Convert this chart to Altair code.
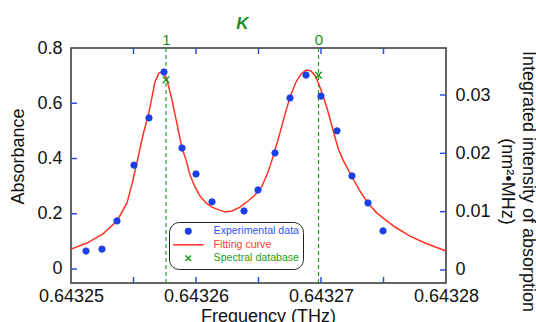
import altair as alt
import pandas as pd

# ---- data ----
exp_freq = [0.6432512, 0.64325248, 0.64325368, 0.64325504, 0.64325624, 0.64325744,
            0.64325888, 0.64326000, 0.64326128, 0.64326384, 0.64326496, 0.64326632,
            0.64326752, 0.64326880, 0.64327000, 0.64327128, 0.64327248, 0.64327376,
            0.64327496]
exp_abs = [0.065, 0.072, 0.174, 0.376, 0.547, 0.713, 0.438, 0.344, 0.243, 0.210,
           0.286, 0.420, 0.619, 0.702, 0.626, 0.500, 0.337, 0.239, 0.138]

fit_freq = [0.64325000, 0.64325128, 0.64325256, 0.64325368, 0.64325448, 0.64325496,
            0.64325536, 0.64325576, 0.64325624, 0.64325672, 0.64325704, 0.64325736,
            0.64325768, 0.64325808, 0.64325848, 0.64325888, 0.64325920, 0.64325952,
            0.64325992, 0.64326032, 0.64326080, 0.64326128, 0.64326184, 0.64326232,
            0.64326288, 0.64326352, 0.64326416, 0.64326472, 0.64326528, 0.64326576,
            0.64326608, 0.64326656, 0.64326704, 0.64326752, 0.64326800, 0.64326840,
            0.64326880, 0.64326920, 0.64326960, 0.64327000, 0.64327048, 0.64327096,
            0.64327136, 0.64327176, 0.64327248, 0.64327312, 0.64327376, 0.64327440,
            0.64327496, 0.64327592, 0.64327712, 0.64327832, 0.64328000]
fit_abs = [0.072, 0.094, 0.127, 0.174, 0.239, 0.322, 0.402, 0.485, 0.568, 0.677,
           0.710, 0.713, 0.684, 0.612, 0.525, 0.438, 0.395, 0.340, 0.297, 0.264,
           0.239, 0.224, 0.214, 0.206, 0.210, 0.224, 0.246, 0.268, 0.300, 0.351,
           0.395, 0.467, 0.547, 0.623, 0.677, 0.706, 0.720, 0.717, 0.695, 0.648,
           0.583, 0.503, 0.438, 0.395, 0.333, 0.282, 0.239, 0.206, 0.185, 0.152,
           0.119, 0.094, 0.065]

db_freq = [0.6432576, 0.6432698]
db_int = [0.0326, 0.0334]
k_labels = ["1", "0"]

x_major = [0.64325, 0.64326, 0.64327, 0.64328]
x_inner_ticks = [0.643255, 0.64326, 0.643265, 0.64327, 0.643275]
y_left_labels = [0, 0.2, 0.4, 0.6, 0.8]
y_left_ticks = [0, 0.2, 0.4, 0.6]
y_right_ticks = [0, 0.01, 0.02, 0.03]

legend_labels = ["Experimental data", "Fitting curve", "Spectral database"]
legend_colors = ["#1a3fe6", "#ff3322", "#1e9a1e"]
legend_text_colors = ["#2f55ff", "#ff3a3a", "#23a023"]
legend_shapes = ["circle", "M-5.6,0L5.6,0", "M-1,-1L1,1M-1,1L1,-1"]

W, H = 375, 235
FONT = "Liberation Sans"
TICK_BLUE = "#2f4fe0"
GREEN_LINE = "#2a9a2a"
GREEN_TEXT = "#1e8c1e"
TICK_LEN = 6

exp_df = pd.DataFrame({"f": exp_freq, "a": exp_abs, "s": legend_labels[0]})
fit_df = pd.DataFrame({"f": fit_freq, "a": fit_abs, "s": legend_labels[1]})
db_df = pd.DataFrame({"f": db_freq, "i": db_int, "k": k_labels, "s": legend_labels[2]})
xt_df = pd.DataFrame({"v": x_inner_ticks})
ylt_df = pd.DataFrame({"v": y_left_ticks})
yrt_df = pd.DataFrame({"v": y_right_ticks})

xscale = alt.Scale(domain=[0.64325, 0.64328], nice=False, zero=False)
yl_scale = alt.Scale(domain=[-0.0507, 0.80], nice=False, zero=False)
yr_scale = alt.Scale(domain=[-0.00223, 0.03806], nice=False, zero=False)

label_expr = " : ".join(
    f"datum.label == '{l}' ? '{c}'" for l, c in zip(legend_labels[:-1], legend_text_colors[:-1])
) + f" : '{legend_text_colors[-1]}'"

legend = alt.Legend(
    title=None, orient="none", legendX=98, legendY=174,
    strokeColor="#222222", cornerRadius=10, padding=4, fillColor="white",
    labelFontSize=10.6, labelFont=FONT, labelOffset=20, symbolOffset=10, rowPadding=1.5,
    symbolSize=30, symbolStrokeWidth=1.5,
    labelColor={"expr": label_expr},
)
fill_scale = alt.Scale(domain=legend_labels, range=legend_colors)
stroke_scale = alt.Scale(domain=legend_labels, range=legend_colors)
shape_scale = alt.Scale(domain=legend_labels, range=legend_shapes)

top_expr = " : ".join(
    f"datum.value == {f} ? '{k}'" for f, k in zip(db_freq[:-1], k_labels[:-1])
) + f" : '{k_labels[-1]}'"

# inward tick marks along the frame (positions from the tick arrays via the scales)
tick_style = dict(color=TICK_BLUE, strokeWidth=1.5)
xt_bottom = alt.Chart(xt_df).mark_rule(**tick_style).encode(
    x=alt.X("v:Q", scale=xscale, axis=None), y=alt.value(H), y2=alt.value(H - TICK_LEN))
xt_top = alt.Chart(xt_df).mark_rule(**tick_style).encode(
    x=alt.X("v:Q", scale=xscale, axis=None), y=alt.value(0), y2=alt.value(TICK_LEN))
yt_left = alt.Chart(ylt_df).mark_rule(**tick_style).encode(
    y=alt.Y("v:Q", scale=yl_scale, axis=None), x=alt.value(0), x2=alt.value(TICK_LEN))
yt_right = alt.Chart(yrt_df).mark_rule(**tick_style).encode(
    y=alt.Y("v:Q", scale=yr_scale, axis=None), x=alt.value(W), x2=alt.value(W - TICK_LEN))

vlines = alt.Chart(db_df).mark_rule(color=GREEN_LINE, strokeDash=[4, 3], strokeWidth=1.2).encode(
    x=alt.X("f:Q", scale=xscale, axis=alt.Axis(
        orient="top", values=db_freq, labelExpr=top_expr, labelColor=GREEN_TEXT,
        labelFontSize=15, labelPadding=1, ticks=False, tickSize=0, domain=False, grid=False,
        labelFlush=False, title="K", titleColor=GREEN_TEXT, titleFontStyle="italic",
        titleFontWeight="bold", titleFontSize=17, titleX=171, titleY=-20,
        titleBaseline="alphabetic", titleAlign="center", titleAngle=0)),
)

curve = alt.Chart(fit_df).mark_line(strokeWidth=1.5).encode(
    x=alt.X("f:Q", scale=xscale, axis=None),
    y=alt.Y("a:Q", scale=yl_scale, axis=None),
    stroke=alt.Stroke("s:N", scale=stroke_scale, legend=legend),
)

exp = alt.Chart(exp_df).mark_point(size=40, strokeWidth=1, opacity=1).encode(
    x=alt.X("f:Q", scale=xscale, axis=alt.Axis(
        orient="bottom", values=x_major, format=".5f", labelFontSize=18, labelPadding=4,
        ticks=False, tickSize=0, domain=False, grid=False, labelFlush=False,
        title="Frequency (THz)", titleFontSize=18, titleFontWeight="normal",
        titleX=197, titleY=24, titleBaseline="top", titleAlign="center", titleAngle=0)),
    y=alt.Y("a:Q", scale=yl_scale, axis=alt.Axis(
        orient="left", values=y_left_labels, format="~g", labelFontSize=18, labelPadding=9,
        ticks=False, tickSize=0, domain=False, grid=False, labelFlush=False,
        title="Absorbance", titleFontSize=18, titleFontWeight="normal",
        titleX=-62, titleY=108, titleBaseline="top", titleAlign="center", titleAngle=270)),
    fill=alt.Fill("s:N", scale=fill_scale, legend=legend),
    stroke=alt.Stroke("s:N", scale=stroke_scale, legend=legend),
    shape=alt.Shape("s:N", scale=shape_scale, legend=legend),
)

cross = alt.Chart(db_df).mark_point(size=45, strokeWidth=1.3, opacity=1).encode(
    x=alt.X("f:Q", scale=xscale, axis=None),
    y=alt.Y("i:Q", scale=yr_scale, axis=alt.Axis(
        orient="right", values=y_right_ticks, format="~g", labelFontSize=18, labelPadding=9,
        ticks=False, tickSize=0, domain=False, grid=False, labelFlush=False,
        title=["Integrated intensity of absorption", "(nm²•MHz)"], titleFontSize=18,
        titleFontWeight="normal", titleLineHeight=21,
        titleX=90, titleY=133, titleBaseline="top", titleAlign="center", titleAngle=90)),
    stroke=alt.Stroke("s:N", scale=stroke_scale, legend=legend),
    shape=alt.Shape("s:N", scale=shape_scale, legend=legend),
)

left = alt.layer(xt_bottom, xt_top, yt_left, vlines, curve, exp).resolve_axis(
    x="independent", y="independent")
right = alt.layer(yt_right, cross).resolve_axis(x="independent", y="independent")

chart = alt.layer(left, right).resolve_scale(y="independent").resolve_axis(
    x="independent", y="independent"
).properties(
    width=W, height=H,
    autosize=alt.AutoSizeParams(type="none"),
    padding={"left": 71, "top": 48, "right": 90, "bottom": 39},
).configure(font=FONT).configure_view(
    stroke="#333333", strokeWidth=1.5
).configure_axis(
    labelFont=FONT, titleFont=FONT, labelColor="#111111", titleColor="#111111"
)

chart.save("out.html", embed_options={"renderer": "svg", "actions": False})
